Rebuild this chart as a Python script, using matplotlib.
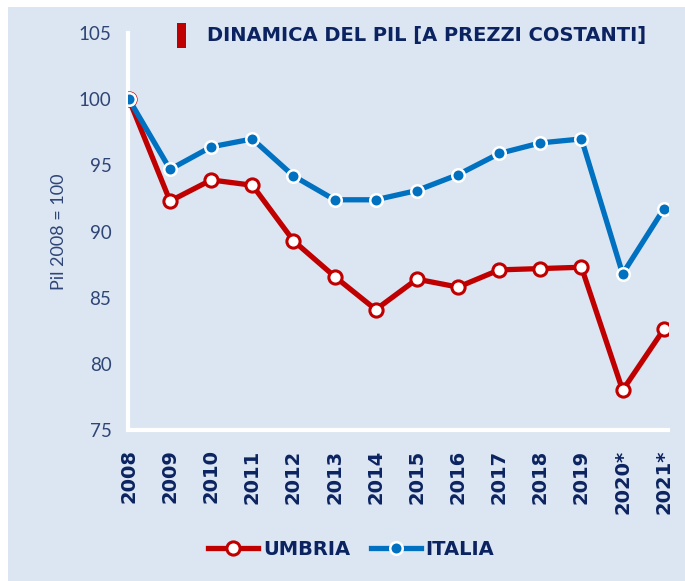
import matplotlib
matplotlib.use('Agg')

import matplotlib.pyplot as plt
from matplotlib.patches import Rectangle
from matplotlib.lines import Line2D

# Data (index, 2008 = 100)
years = ['2008', '2009', '2010', '2011', '2012', '2013', '2014',
         '2015', '2016', '2017', '2018', '2019', '2020*', '2021*']
umbria = [100, 92.3, 93.9, 93.5, 89.3, 86.6, 84.1,
          86.4, 85.8, 87.1, 87.2, 87.3, 78.0, 82.6]
italia = [100, 94.7, 96.4, 97.0, 94.2, 92.4, 92.4,
          93.1, 94.3, 95.9, 96.7, 97.0, 86.8, 91.7]
y_ticks = [75, 80, 85, 90, 95, 100, 105]

BG = '#dce6f2'
NAVY = '#0b2360'
TICK = '#2e4576'
RED = '#c00000'
BLUE = '#0070c0'

fig = plt.figure(figsize=(6.85, 5.81), dpi=100)
fig.patch.set_facecolor('white')
# light blue panel behind everything
fig.patches.append(Rectangle((0.011, 0), 0.989, 0.988, transform=fig.transFigure,
                             facecolor=BG, edgecolor='none', zorder=-10))

ax = fig.add_axes([0.187, 0.26, 0.788, 0.683])
ax.set_facecolor('none')

x = list(range(len(years)))
ax.plot(x, umbria, color=RED, lw=3.8, marker='o', ms=9.5,
        mfc='white', mec=RED, mew=2.2, zorder=3, solid_joinstyle='miter')
ax.plot(x, italia, color=BLUE, lw=3.8, marker='o', ms=9,
        mfc=BLUE, mec='white', mew=1.8, zorder=4, solid_joinstyle='miter')

ax.set_ylim(75, 105)
ax.set_xlim(-0.02, len(years) - 0.9)
ax.set_yticks(y_ticks)
ax.set_xticks(x)
ax.set_xticklabels(years, rotation=90, fontsize=14, fontweight='bold',
                   color=NAVY, family='DejaVu Sans')
ax.set_yticklabels([str(v) for v in y_ticks], fontsize=13.5, color=TICK,
                   family='Lato')
ax.tick_params(axis='both', length=0)
ax.tick_params(axis='y', pad=12)
ax.tick_params(axis='x', pad=14)

for side in ['top', 'right']:
    ax.spines[side].set_visible(False)
for side in ['left', 'bottom']:
    ax.spines[side].set_color('white')
    ax.spines[side].set_linewidth(3)
ax.spines['bottom'].set_bounds(0, len(years) - 0.9)

ax.set_ylabel('Pil 2008 = 100', fontsize=13, color=TICK, family='Lato', labelpad=8)

# title with red marker bar
fig.patches.append(Rectangle((0.259, 0.917), 0.013, 0.044, transform=fig.transFigure,
                             facecolor=RED, edgecolor='none'))
fig.text(0.302, 0.939, 'DINAMICA DEL PIL [A PREZZI COSTANTI]', fontsize=14,
         fontweight='bold', color=NAVY, va='center', ha='left')

handles = [
    Line2D([], [], color=RED, lw=3.8, marker='o', ms=9.5, mfc='white', mec=RED, mew=2.2),
    Line2D([], [], color=BLUE, lw=3.8, marker='o', ms=9, mfc=BLUE, mec='white', mew=1.8),
]
leg = fig.legend(handles, ['UMBRIA', 'ITALIA'], loc='center', bbox_to_anchor=(0.513, 0.055),
                 ncol=2, frameon=False, handlelength=2.55, handletextpad=0.25,
                 columnspacing=1.1, prop={'size': 14, 'weight': 'bold'})
for t in leg.get_texts():
    t.set_color(NAVY)

fig.savefig('out.png', dpi=100, facecolor=fig.get_facecolor())
